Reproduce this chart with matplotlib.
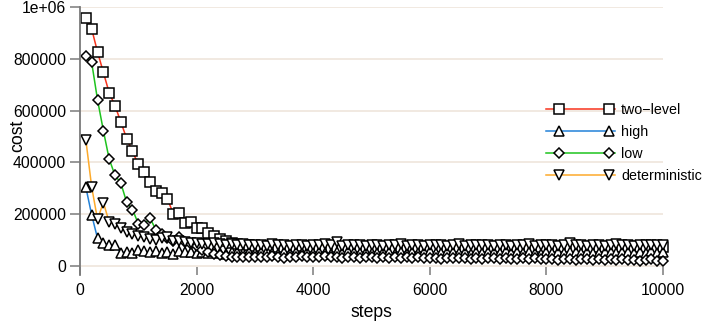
import numpy as np
import matplotlib
matplotlib.use("Agg")
import matplotlib.pyplot as plt
from matplotlib.legend_handler import HandlerLine2DCompound

# sample every 100 steps, 100..10000
steps = np.arange(100, 10001, 100)

# cost values in thousands, one row per 1000 steps
two_level = [
    958, 915, 827, 748, 669, 619, 556, 492, 442, 392,
    364, 326, 288, 281, 258, 202, 204, 166, 171, 146,
    146, 129, 116, 104, 96, 90, 86, 82, 80, 78,
    76, 74, 77, 73, 75, 72, 74, 76, 71, 73,
    75, 72, 70, 74, 73, 71, 75, 72, 74, 70,
    73, 72, 75, 71, 73, 74, 70, 72, 75, 73,
    71, 74, 72, 70, 73, 75, 72, 71, 74, 73,
    70, 72, 74, 71, 73, 75, 72, 70, 73, 74,
    71, 72, 75, 73, 70, 72, 74, 71, 73, 72,
    74, 70, 73, 75, 71, 72, 74, 73, 71, 72,
]
high = [
    304, 197, 107, 88, 81, 81, 50, 55, 49, 60,
    56, 52, 58, 50, 54, 48, 57, 52, 55, 50,
    53, 49, 56, 51, 47, 55, 52, 50, 54, 49,
    52, 56, 50, 48, 54, 51, 55, 49, 53, 50,
    55, 51, 48, 53, 50, 56, 52, 49, 54, 51,
    50, 54, 52, 48, 55, 51, 53, 49, 52, 56,
    51, 49, 54, 52, 50, 55, 48, 53, 51, 54,
    52, 50, 56, 49, 53, 51, 54, 50, 48, 55,
    51, 53, 49, 55, 52, 50, 54, 51, 49, 53,
    55, 50, 52, 54, 49, 53, 51, 56, 50, 52,
]
low = [
    810, 786, 642, 523, 413, 350, 320, 246, 218, 163,
    160, 185, 140, 122, 108, 96, 110, 94, 86, 76,
    62, 55, 48, 42, 37, 34, 36, 33, 35, 34,
    36, 33, 38, 35, 32, 36, 34, 37, 33, 35,
    34, 37, 33, 36, 32, 35, 34, 31, 36, 33,
    32, 35, 31, 34, 30, 33, 32, 35, 30, 32,
    31, 28, 32, 30, 29, 31, 27, 30, 28, 31,
    29, 27, 30, 28, 26, 29, 27, 30, 26, 28,
    27, 24, 26, 28, 23, 26, 25, 22, 26, 24,
    25, 23, 26, 22, 24, 21, 23, 25, 21, 18,
]
deterministic = [
    487, 305, 180, 245, 170, 162, 148, 132, 122, 115,
    110, 105, 100, 108, 113, 98, 95, 92, 90, 88,
    86, 85, 88, 83, 82, 84, 80, 83, 81, 82,
    80, 78, 83, 79, 81, 77, 82, 80, 78, 81,
    79, 83, 80, 92, 78, 81, 79, 82, 77, 80,
    82, 78, 80, 79, 83, 77, 81, 80, 78, 82,
    79, 81, 77, 80, 83, 78, 82, 79, 80, 81,
    78, 82, 80, 77, 81, 79, 83, 78, 80, 79,
    81, 78, 80, 90, 79, 82, 77, 81, 80, 78,
    80, 83, 79, 81, 78, 82, 80, 79, 81, 82,
]

series_names = ["two\u2212level", "high", "low", "deterministic"]
series_colors = ["#f8331c", "#2281d8", "#1ec31e", "#fdaa2b"]
series_markers = ["s", "^", "D", "v"]
series_msize = [7.0, 7.8, 5.4, 7.8]

yticks = [0, 200000, 400000, 600000, 800000, 1000000]
ytick_labels = ["0", "200000", "400000", "600000", "800000", "1e+06"]
xticks = [0, 2000, 4000, 6000, 8000, 10000]


class LegendLine(HandlerLine2DCompound):
    # line spans the whole handle, markers sit a bit inside it
    def create_artists(self, legend, orig_handle, xdescent, ydescent,
                       width, height, fontsize, trans):
        arts = super().create_artists(legend, orig_handle, xdescent, ydescent,
                                      width, height, fontsize, trans)
        arts[0].set_xdata([-xdescent, -xdescent + width])
        arts[1].set_xdata([-xdescent + 0.9 * fontsize,
                           -xdescent + width - 0.4 * fontsize])
        return arts


plt.rcParams["font.family"] = ["Liberation Sans", "DejaVu Sans"]

fig = plt.figure(figsize=(7.05, 3.26), dpi=100)
ax = fig.add_axes([0.1135, 0.1564, 0.8270, 0.8221])

data = [two_level, high, low, deterministic]
for vals, name, col, mk, ms in zip(data, series_names, series_colors,
                                   series_markers, series_msize):
    ax.plot(steps, np.array(vals) * 1000, color=col, lw=1.1, marker=mk,
            markersize=ms, markerfacecolor="white", markeredgecolor="black",
            markeredgewidth=1.1, label=name, clip_on=False)

ax.set_xlim(0, 10000)
ax.set_ylim(-35000, 1000000)

for y in yticks:
    ax.axhline(y, color="#eee3d8", lw=1.1, zorder=0)

ax.set_yticks(yticks)
ax.set_yticklabels(ytick_labels)
ax.set_xticks(xticks)

for side in ["top", "right", "bottom"]:
    ax.spines[side].set_visible(False)
ax.spines["left"].set_color("#7a7a7a")
ax.spines["left"].set_linewidth(1.3)

ax.tick_params(axis="y", direction="out", length=7, width=1.1,
               color="#7a7a7a", labelsize=11.3, pad=3)
ax.tick_params(axis="x", direction="in", length=6, width=1.1,
               color="#7a7a7a", labelsize=11.3, pad=6)

ax.set_xlabel("steps", fontsize=12.7, labelpad=4)
ax.set_ylabel("cost", fontsize=12.7)
ax.yaxis.set_label_coords(-0.093, 0.52)

ax.legend(loc="upper left", bbox_to_anchor=(0.799, 0.642), frameon=False,
          fontsize=10.3, handlelength=4.8, handletextpad=0.45,
          borderpad=0, borderaxespad=0, labelspacing=0.55, numpoints=2,
          handler_map={plt.Line2D: LegendLine()})

fig.savefig("out.png", dpi=100)
